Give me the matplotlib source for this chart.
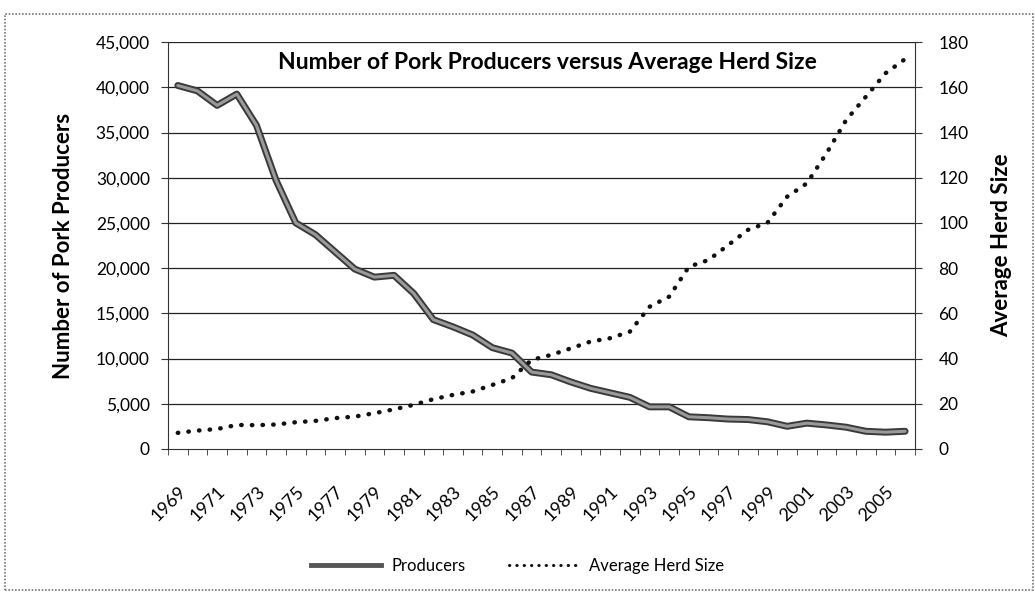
import numpy as np
import matplotlib
matplotlib.use("Agg")
import matplotlib.pyplot as plt
from matplotlib.lines import Line2D
from matplotlib.patches import Rectangle

plt.rcParams['font.family'] = ['Lato', 'DejaVu Sans']

years = list(range(1969, 2007))
producers = [40200, 39600, 38000, 39250, 35800, 29700, 25000, 23700, 21800, 19900,
             19000, 19200, 17200, 14300, 13500, 12600, 11200, 10600, 8500, 8200,
             7400, 6700, 6200, 5700, 4650, 4650, 3550, 3450, 3300, 3250,
             3000, 2500, 2850, 2650, 2400, 1950, 1850, 1950]
herd_size = [7.1, 8.1, 8.8, 10.6, 10.5, 10.8, 11.8, 12.4, 13.6, 14.3,
             15.8, 17.5, 19.5, 22.0, 23.9, 25.4, 28.3, 31.3, 39.4, 41.6,
             44.5, 47.5, 49.0, 51.9, 62.9, 67.4, 80.6, 83.6, 90.2, 96.9,
             100.1, 111.6, 117.5, 130.8, 145.5, 155.8, 166.2, 172.5]
tick_years = [str(y) for y in years[::2]]

fig = plt.figure(figsize=(10.35, 5.93), dpi=100)
ax = fig.add_axes([0.1623, 0.243, 0.7217, 0.686])
x = np.arange(len(years))

for v in range(5000, 45001, 5000):
    ax.axhline(v, color='#222222', lw=0.9, zorder=1)

ax.plot(x, producers, color='#3a3a3a', lw=5, solid_capstyle='round', zorder=3)
ax.plot(x, producers, color='#9a9a9a', lw=2.2, solid_capstyle='round', zorder=4)
ax.set_ylim(0, 45000)
ax.set_xlim(-0.5, len(years) - 0.5)
ax.set_yticks(range(0, 45001, 5000))
ax.set_yticklabels([f'{v:,}' for v in range(0, 45001, 5000)], fontsize=12.5)
ax.set_xticks(x[::2])
ax.set_xticklabels(tick_years, rotation=45, ha='right', rotation_mode='anchor', fontsize=13)
ax.set_xticks(np.arange(-0.5, len(years)), minor=True)
ax.tick_params(axis='x', which='major', length=0, pad=25)
ax.tick_params(axis='x', which='minor', length=4, color='#333333')
ax.tick_params(axis='y', length=5, color='#333333', pad=8)
ax.set_ylabel('Number of Pork Producers', fontsize=16, fontweight='bold', labelpad=16)
for s in ['top', 'right']:
    ax.spines[s].set_visible(False)
ax.spines['left'].set_color('#333333')
ax.spines['bottom'].set_color('#333333')

ax2 = ax.twinx()
ax2.plot(x, herd_size, color='#111111', lw=3.2, linestyle=(0, (0.1, 2.3)),
         dash_capstyle='round', zorder=5)
ax2.set_ylim(0, 180)
ax2.set_yticks(range(0, 181, 20))
ax2.tick_params(axis='y', labelsize=12.5, length=5, color='#333333', pad=12)
ax2.set_ylabel('Average Herd Size', fontsize=16, fontweight='bold', labelpad=16)
for s in ['top', 'left', 'bottom']:
    ax2.spines[s].set_visible(False)
ax2.spines['right'].set_color('#333333')

ax.text(0.508, 0.975, 'Number of Pork Producers versus Average Herd Size',
        transform=ax.transAxes, ha='center', va='top', fontsize=16.5, fontweight='bold',
        zorder=6)

handles = [Line2D([], [], color='#555555', lw=3.5),
           Line2D([], [], color='#111111', lw=2.2, linestyle=(0, (0.1, 2.3)), dash_capstyle='round')]
fig.legend(handles, ['Producers', 'Average Herd Size'], loc='center', bbox_to_anchor=(0.5, 0.045),
           ncol=2, frameon=False, fontsize=12, handlelength=4.2, handletextpad=0.6,
           columnspacing=2.6)

fig.patches.append(Rectangle((0.005, 0.005), 0.993, 0.972, transform=fig.transFigure,
                             fill=False, edgecolor='#777777', lw=1.2, linestyle=(0, (1, 1))))

fig.savefig('out.png', dpi=100)
